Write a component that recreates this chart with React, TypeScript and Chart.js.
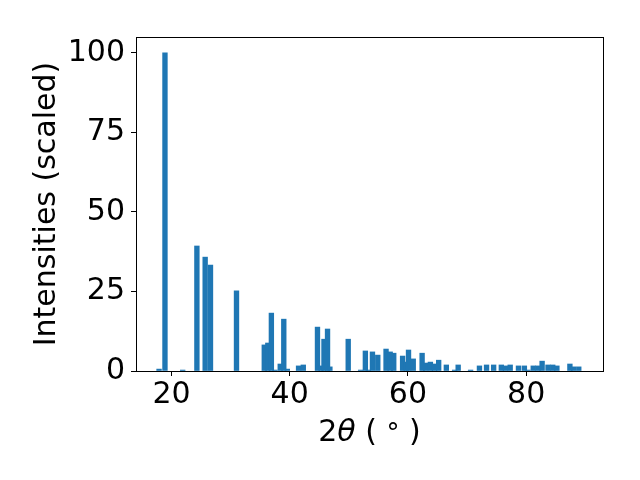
import React, { useEffect, useRef } from "react";
import { Chart, registerables } from "chart.js";

Chart.register(...registerables);

const twoTheta = [
  17.9, 18.9, 21.9, 24.3, 25.7, 26.6, 31.0, 35.7, 36.3, 36.9, 37.5, 38.4, 39.0, 39.6,
  41.5, 42.3, 44.7, 45.3, 45.8, 46.4, 46.8, 49.9, 52.0, 52.8, 53.3, 54.0, 54.9, 56.3,
  57.0, 57.6, 59.1, 59.7, 60.1, 60.9, 62.4, 63.0, 63.8, 64.5, 65.2, 66.5, 67.9, 68.5,
  70.6, 72.1, 73.3, 74.5, 75.8, 76.5, 77.3, 78.7, 79.7, 80.3, 81.2, 82.0, 82.7, 83.7,
  84.5, 85.2, 87.4, 88.0, 88.9,
];
const intensities = [
  0.6, 100, 0.3, 39.3, 35.8, 33.3, 25.2, 8.2, 8.8, 18.2, 0.3, 2.2, 16.3, 0.6,
  1.6, 1.9, 13.8, 1.6, 10.0, 13.2, 1.3, 10.0, 0.3, 6.3, 0.3, 6.0, 5.0, 6.9,
  6.0, 5.6, 4.7, 2.8, 6.6, 3.8, 5.6, 2.5, 2.8, 2.2, 3.4, 1.9, 0.3, 1.9,
  0.3, 1.6, 1.9, 1.9, 1.9, 1.6, 1.9, 1.6, 1.6, 0.3, 1.6, 1.6, 3.1, 1.9,
  1.9, 1.6, 2.2, 1.3, 1.3,
];
const xTicks = [20, 40, 60, 80];
const yTicks = [0, 25, 50, 75, 100];
const xLabelParts = ["2", "θ", " ( ", "°", " )"];
const yLabel = "Intensities (scaled)";

const FONT = "DejaVu Sans";

const frame = {
  id: "frame",
  afterDraw(chart: any) {
    const { ctx, chartArea: a } = chart;
    ctx.save();
    ctx.strokeStyle = "#000";
    ctx.lineWidth = 1;
    ctx.strokeRect(Math.round(a.left) + 0.5, Math.round(a.top) + 0.5, Math.round(a.right - a.left), Math.round(a.bottom - a.top));
    // x-axis title with italic theta and degree sign
    const fonts = [
      `30px '${FONT}'`,
      `italic 30px '${FONT}'`,
      `30px '${FONT}'`,
      `26px '${FONT}'`,
      `30px '${FONT}'`,
    ];
    const rise = [0, 0, 0, 1, 0];
    let total = 0;
    const widths = xLabelParts.map((t, i) => {
      ctx.font = fonts[i];
      const w = ctx.measureText(t).width;
      total += w;
      return w;
    });
    let x = (a.left + a.right) / 2 - total / 2;
    const baseY = 441;
    ctx.fillStyle = "#000";
    ctx.textAlign = "left";
    ctx.textBaseline = "alphabetic";
    xLabelParts.forEach((t, i) => {
      ctx.font = fonts[i];
      ctx.fillText(t, x, baseY + rise[i]);
      x += widths[i];
    });
    ctx.restore();
  },
};

export default function App() {
  const ref = useRef<HTMLCanvasElement>(null);
  useEffect(() => {
    Chart.defaults.font.family = FONT;
    Chart.defaults.color = "#000";
    const chart = new Chart(ref.current!, {
      type: "bar",
      data: {
        datasets: [
          {
            data: twoTheta.map((x, i) => ({ x, y: intensities[i] })),
            backgroundColor: "#1f77b4",
            borderWidth: 0,
            barThickness: 4.7,
          },
        ],
      },
      options: {
        animation: false,
        responsive: false,
        maintainAspectRatio: false,
        layout: { padding: { top: 37, right: 37, left: 0, bottom: 0 } },
        plugins: { legend: { display: false }, tooltip: { enabled: false } },
        scales: {
          x: {
            type: "linear",
            min: 14,
            max: 93,
            offset: false,
            afterBuildTicks: (s: any) => {
              s.ticks = xTicks.map((v) => ({ value: v }));
            },
            afterFit: (s: any) => {
              s.height = 109;
            },
            grid: { offset: false, drawOnChartArea: false, drawTicks: true, tickLength: 5, color: "#000" },
            border: { display: true, color: "#000" },
            ticks: { font: { size: 30 }, padding: 1, maxRotation: 0, autoSkip: false },
            title: { display: false },
          },
          y: {
            min: 0,
            max: 105,
            afterBuildTicks: (s: any) => {
              s.ticks = yTicks.map((v) => ({ value: v }));
            },
            afterFit: (s: any) => {
              s.width = 136;
            },
            grid: { drawOnChartArea: false, drawTicks: true, tickLength: 5, color: "#000" },
            border: { display: true, color: "#000" },
            ticks: { font: { size: 30 }, padding: 6, autoSkip: false },
            title: { display: true, text: yLabel, font: { size: 30 }, padding: { top: 29, bottom: 0 } },
          },
        },
      },
      plugins: [frame],
    });
    return () => chart.destroy();
  }, []);
  return (
    <div style={{ position: "fixed", left: 0, top: 0, width: 640, height: 480, background: "#fff" }}>
      <canvas ref={ref} width={640} height={480} style={{ width: 640, height: 480 }} />
    </div>
  );
}
